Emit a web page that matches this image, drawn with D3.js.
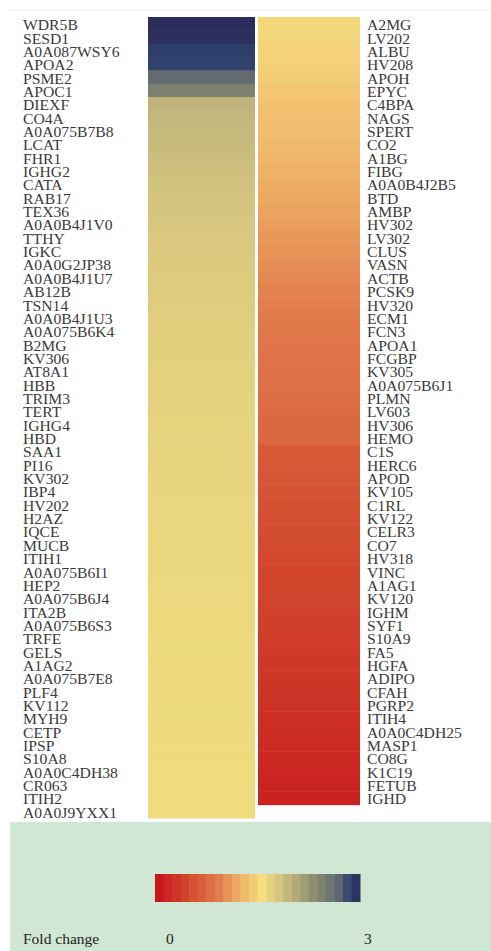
<!DOCTYPE html>
<html lang="en">
<head>
  <meta charset="UTF-8">
  <title>Fold change heatmap</title>
  <script src="https://cdn.jsdelivr.net/npm/d3@7/dist/d3.min.js"></script>
  <style>
    body { margin: 0; background: #fff; }
    .label text {
      font-family: "Liberation Serif", "DejaVu Serif", serif;
      font-size: 14px;
      fill: #3a3a3a;
    }
    .legend text {
      font-family: "Liberation Serif", "DejaVu Serif", serif;
      font-size: 15.5px;
      fill: #222;
    }
  </style>
</head>
<body>
<svg width="491" height="951"></svg>

<script>
  // 左列：上调/高倍数
  const leftGenes = ["WDR5B", "SESD1", "A0A087WSY6", "APOA2", "PSME2", "APOC1", "DIEXF", "CO4A",
    "A0A075B7B8", "LCAT", "FHR1", "IGHG2", "CATA", "RAB17", "TEX36", "A0A0B4J1V0", "TTHY", "IGKC",
    "A0A0G2JP38", "A0A0B4J1U7", "AB12B", "TSN14", "A0A0B4J1U3", "A0A075B6K4", "B2MG", "KV306",
    "AT8A1", "HBB", "TRIM3", "TERT", "IGHG4", "HBD", "SAA1", "PI16", "KV302", "IBP4", "HV202",
    "H2AZ", "IQCE", "MUCB", "ITIH1", "A0A075B6I1", "HEP2", "A0A075B6J4", "ITA2B", "A0A075B6S3",
    "TRFE", "GELS", "A1AG2", "A0A075B7E8", "PLF4", "KV112", "MYH9", "CETP", "IPSP", "S10A8",
    "A0A0C4DH38", "CR063", "ITIH2", "A0A0J9YXX1"];
  const leftValues = [3.0, 2.98, 2.86, 2.84, 2.65, 2.45, 1.97, 1.95, 1.93, 1.91, 1.89, 1.87, 1.85,
    1.83, 1.82, 1.80, 1.79, 1.78, 1.77, 1.76, 1.75, 1.74, 1.73, 1.72, 1.715, 1.71, 1.705, 1.70,
    1.695, 1.69, 1.685, 1.68, 1.675, 1.67, 1.665, 1.66, 1.655, 1.65, 1.65, 1.645, 1.64, 1.64,
    1.635, 1.635, 1.63, 1.63, 1.625, 1.625, 1.62, 1.62, 1.62, 1.615, 1.615, 1.61, 1.61, 1.61,
    1.605, 1.605, 1.60, 1.60];

  // 右列：下调/低倍数
  const rightGenes = ["A2MG", "LV202", "ALBU", "HV208", "APOH", "EPYC", "C4BPA", "NAGS", "SPERT",
    "CO2", "A1BG", "FIBG", "A0A0B4J2B5", "BTD", "AMBP", "HV302", "LV302", "CLUS", "VASN", "ACTB",
    "PCSK9", "HV320", "ECM1", "FCN3", "APOA1", "FCGBP", "KV305", "A0A075B6J1", "PLMN", "LV603",
    "HV306", "HEMO", "C1S", "HERC6", "APOD", "KV105", "C1RL", "KV122", "CELR3", "CO7", "HV318",
    "VINC", "A1AG1", "KV120", "IGHM", "SYF1", "S10A9", "FA5", "HGFA", "ADIPO", "CFAH", "PGRP2",
    "ITIH4", "A0A0C4DH25", "MASP1", "CO8G", "K1C19", "FETUB", "IGHD"];
  const rightValues = [1.52, 1.50, 1.48, 1.46, 1.44, 1.40, 1.37, 1.35, 1.33, 1.31, 1.29, 1.26,
    1.22, 1.19, 1.16, 1.12, 1.09, 1.06, 1.03, 1.0, 0.97, 0.94, 0.91, 0.89, 0.87, 0.86, 0.85,
    0.83, 0.81, 0.79, 0.77, 0.75, 0.65, 0.63, 0.61, 0.59, 0.57, 0.55, 0.53, 0.51, 0.49, 0.47,
    0.46, 0.44, 0.42, 0.41, 0.39, 0.37, 0.35, 0.33, 0.31, 0.29, 0.27, 0.25, 0.23, 0.21, 0.19,
    0.17, 0.15];

  const legendTicks = [0, 3];
  const legendTitle = "Fold change";

  const svg = d3.select("svg");

  // 颜色：红 -> 黄 -> 深蓝
  const color = d3.scaleLinear()
    .domain([0, 0.3, 0.6, 0.9, 1.2, 1.41, 1.56, 1.8, 2.1, 2.4, 2.7, 2.85, 3.0])
    .range(["#c8101a", "#cc3325", "#d55533", "#e0784a", "#edaa63", "#f3c874", "#f5df7e",
      "#d8c77e", "#ada67a", "#858670", "#5c6670", "#2e3f6c", "#2a2d5a"])
    .clamp(true);

  const rowTop = 17, step = 13.35;

  // 顶部细线
  svg.append("line")
    .attr("x1", 10).attr("x2", 491)
    .attr("y1", 10).attr("y2", 10)
    .attr("stroke", "#dfeee6");

  function drawColumn(genes, values, x0, x1, labelX) {
    const y = d3.scaleBand()
      .domain(genes)
      .range([rowTop, rowTop + step * genes.length])
      .paddingInner(0);

    svg.append("g")
      .selectAll("rect")
      .data(genes)
      .join("rect")
      .attr("x", x0)
      .attr("width", x1 - x0)
      .attr("y", d => y(d))
      .attr("height", y.bandwidth() + 0.5)
      .attr("fill", (d, i) => color(values[i]));

    // 字形略宽于字号，横向拉伸一点
    svg.append("g")
      .attr("class", "label")
      .selectAll("text")
      .data(genes)
      .join("text")
      .attr("transform", d => `translate(${labelX},${y(d) + y.bandwidth() / 2 + 6.5}) scale(1.12,1)`)
      .text(d => d);
  }

  drawColumn(leftGenes, leftValues, 148, 255, 23);
  drawColumn(rightGenes, rightValues, 258, 360, 367);

  // 图例区域
  svg.append("rect")
    .attr("x", 10).attr("y", 822)
    .attr("width", 481).attr("height", 129)
    .attr("fill", "#cfe7d3");

  const lx = d3.scaleLinear().domain(d3.extent(legendTicks)).range([155, 360]);
  const nBands = 24;
  const bandW = (lx.range()[1] - lx.range()[0]) / nBands;
  const legend = svg.append("g").attr("class", "legend");

  legend.selectAll("rect")
    .data(d3.range(nBands))
    .join("rect")
    .attr("x", i => lx.range()[0] + i * bandW)
    .attr("y", 874)
    .attr("width", bandW + 0.5)
    .attr("height", 28)
    .attr("fill", i => color(lx.invert(lx.range()[0] + (i + 0.5) * bandW)));

  legend.append("text")
    .attr("x", 23).attr("y", 944)
    .text(legendTitle);

  legend.selectAll("text.tick")
    .data(legendTicks)
    .join("text")
    .attr("class", "tick")
    .attr("x", d => d === 0 ? 166 : 364)
    .attr("y", 944)
    .text(d => d);
</script>
</body>
</html>
